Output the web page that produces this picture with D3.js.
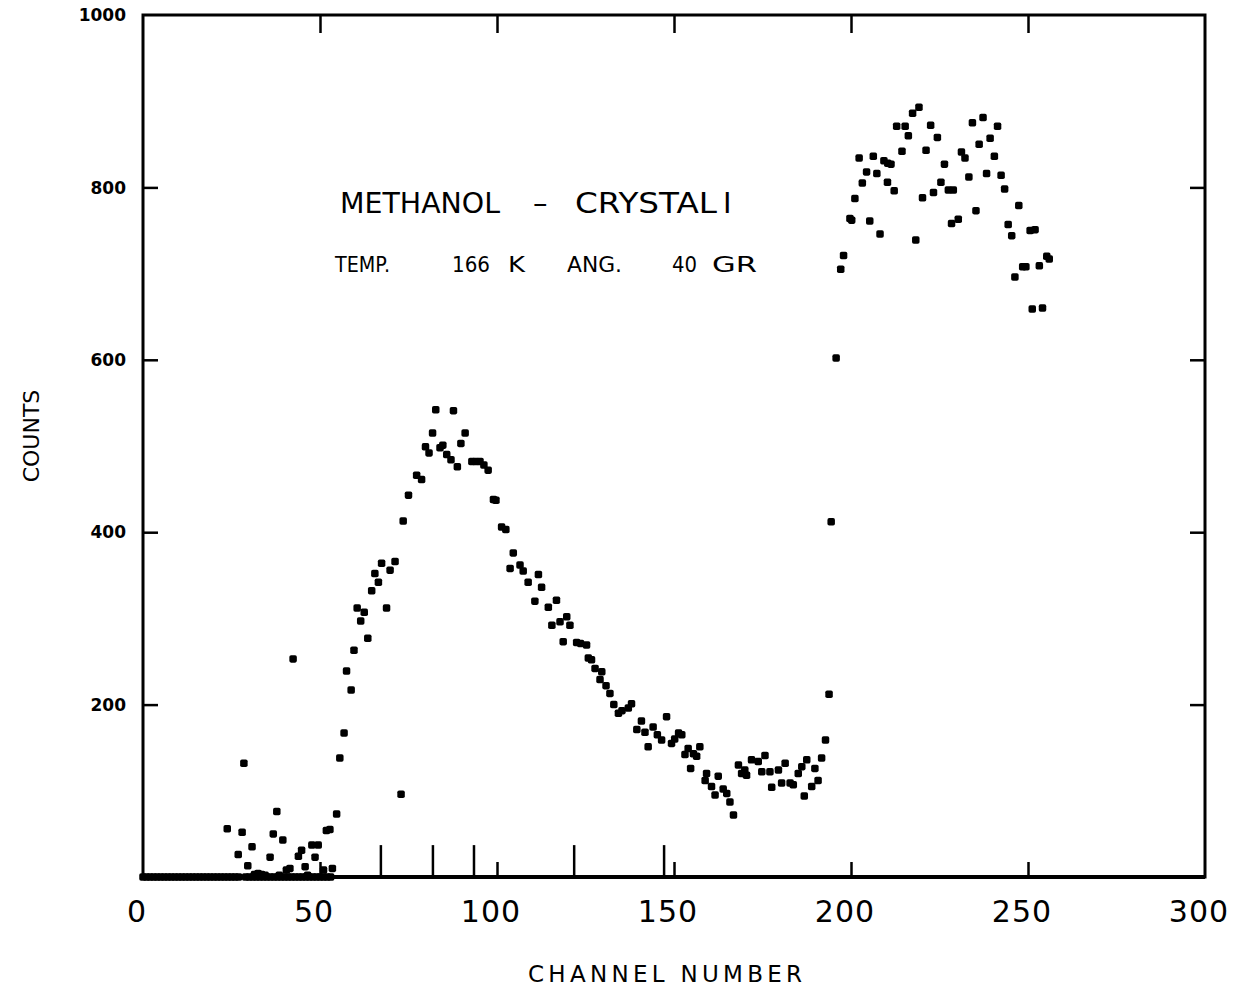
<!DOCTYPE html>
<html>
<head>
<meta charset="utf-8">
<script src="https://cdn.jsdelivr.net/npm/d3@7/dist/d3.min.js"></script>
<style>
  html, body { margin: 0; padding: 0; background: #fff; }
  svg { display: block; }
  text { fill: #000; }
</style>
</head>
<body>
<svg id="chart" width="1238" height="991"></svg>
<script>
// ---------- DATA ----------
const xTicks = [0, 50, 100, 150, 200, 250, 300];
const yTicks = [200, 400, 600, 800, 1000];
const yTickLabels = ["200", "400", "600", "800", "1000"];
const xTickLabels = ["0", "50", "100", "150", "200", "250", "300"];
const markerChannels = [67.2, 81.9, 93.5, 121.8, 147.2];

// channel number of each plotted point
const channels = [
  0,1,2,3,4,5,6,7,8,9,10,11,12,13,14,15,16,17,18,19,20,21,22,
  23,24,25,26,27,29,30,31,32,33,34,35,36,37,38,39,40,41,42,43,44,45,46,47,48,49,50,51,52,53,
  23.8,26.9,28,28.5,29.6,30.8,31.5,32.5,33.5,34.5,35.9,36.8,37.8,38.5,39.5,40.5,41.5,42.4,43.9,44.8,45.8,46.5,47.7,48.6,49.5,51,51.8,52.8,53.5,54.7,
  55.6,56.8,57.5,58.8,59.6,60.5,61.5,62.5,63.5,64.6,65.5,66.5,67.4,68.8,69.8,71.2,72.9,73.5,75,77.3,78.7,79.8,80.8,81.8,82.7,83.9,84.7,85.8,87,87.7,88.8,89.8,91,92.9,94,95.2,96.3,97.5,
  99,99.7,101.3,102.5,103.7,104.6,106.5,107.4,108.8,110.7,111.7,112.6,114.5,115.5,116.8,117.8,118.7,119.7,120.6,122.5,123.6,125.3,125.8,126.7,127.7,129.1,129.6,130.8,131.9,133,134.3,135.3,137.1,138,139.5,140.8,141.8,142.7,144.1,145.3,146.5,147.9,149.3,150.2,151.3,
  152.2,153.1,154,154.7,155.5,156.4,157.3,158.8,159.2,160.6,161.6,162.5,163.9,164.9,165.8,166.8,168.2,169.1,170,170.5,171.9,173.8,174.8,175.7,177.1,177.6,179.5,180.4,181.4,182.8,183.7,185.1,186.1,186.8,187.5,188.9,189.8,190.7,191.7,192.8,193.8,
  194.4,195.8,197.1,197.9,199.7,200.2,201.1,202.3,203.2,204.4,205.3,206.3,207.3,208.2,209.3,210.4,211.3,210.3,212.2,212.9,214.4,215.3,216.2,217.4,218.3,219.2,220.2,221.2,222.5,223.3,224.4,225.4,226.4,227.5,228.4,228.9,230.3,
  231.2,232.2,233.3,234.3,235.3,236.2,237.3,238.3,239.3,240.5,241.4,242.4,243.4,244.4,245.4,246.3,247.4,248.5,249.4,250.6,251.2,252,253.2,254.1,255.3,256
];
// counts of each plotted point
const counts = [
  0,0,0,0,0,0,0,0,0,0,0,0,0,0,0,0,0,0,0,0,0,0,0,
  0,0,0,0,0,0,0,0,0,0,0,0,0,0,0,0,0,0,0,0,0,0,0,0,0,0,0,0,0,0,
  56,26,52,132,13,35,3,4,3,2,23,50,76,2,43,8,10,253,24,31,12,2,37,23,37,8,54,55,10,73,
  138,167,239,217,263,312,297,307,277,332,352,342,364,312,356,366,96,413,443,466,461,499,492,515,542,498,501,490,484,541,476,503,515,482,482,482,478,472,
  438,437,406,403,358,376,362,355,342,320,351,336,313,292,321,296,273,302,292,272,271,269,254,252,242,229,238,222,213,200,190,193,196,201,171,181,168,151,174,165,159,186,155,160,167,
  165,142,149,126,143,140,151,112,120,105,95,117,102,97,87,72,130,120,124,118,136,134,122,141,122,104,124,109,132,109,107,120,128,94,136,105,126,112,138,159,212,
  412,602,705,721,764,762,787,834,805,818,761,836,816,746,831,828,827,806,796,871,842,871,860,886,739,893,788,843,872,794,858,806,827,797,758,797,763,
  841,834,812,875,773,850,881,816,857,836,871,814,798,757,744,696,779,708,708,750,659,751,709,660,720,717
];

// ---------- LAYOUT ----------
const plot = { left: 143, right: 1205, top: 15, bottom: 877 };
const svg = d3.select("#chart");

const x = d3.scaleLinear().domain([0, 300]).range([plot.left, plot.right]);
const y = d3.scaleLinear().domain([0, 1000]).range([plot.bottom, plot.top]);

const FONT = "'DejaVu Sans', 'Liberation Sans', sans-serif";

// ---------- FRAME ----------
svg.append("rect")
  .attr("x", plot.left).attr("y", plot.top)
  .attr("width", plot.right - plot.left).attr("height", plot.bottom - plot.top)
  .attr("fill", "none").attr("stroke", "#000").attr("stroke-width", 3);
svg.append("line")
  .attr("x1", plot.left).attr("x2", plot.right)
  .attr("y1", plot.bottom).attr("y2", plot.bottom)
  .attr("stroke", "#000").attr("stroke-width", 4);

// ---------- X AXIS ----------
const innerX = xTicks.filter(d => d > 0 && d < 300);
const bottomAxis = d3.axisBottom(x).tickValues(innerX).tickSize(-15).tickFormat("");
const gb = svg.append("g").attr("transform", `translate(0,${plot.bottom})`).call(bottomAxis);
gb.select(".domain").remove();
gb.selectAll(".tick line").attr("stroke", "#000").attr("stroke-width", 2.5);

const topAxis = d3.axisTop(x).tickValues(innerX).tickSize(-18).tickFormat("");
const gt = svg.append("g").attr("transform", `translate(0,${plot.top})`).call(topAxis);
gt.select(".domain").remove();
gt.selectAll(".tick line").attr("stroke", "#000").attr("stroke-width", 2.5);

svg.append("g").selectAll("text")
  .data(xTicks)
  .join("text")
  .attr("x", (d) => x(d) - 6)
  .attr("y", 922)
  .attr("text-anchor", "middle")
  .attr("font-family", FONT)
  .attr("font-size", 30)
  .attr("letter-spacing", 1)
  .text((d, i) => xTickLabels[i]);

// ---------- Y AXIS ----------
const innerY = yTicks.filter(d => d < 1000);
const leftAxis = d3.axisLeft(y).tickValues(innerY).tickSize(-15).tickFormat("");
const gl = svg.append("g").attr("transform", `translate(${plot.left},0)`).call(leftAxis);
gl.select(".domain").remove();
gl.selectAll(".tick line").attr("stroke", "#000").attr("stroke-width", 2.5);

const rightAxis = d3.axisRight(y).tickValues(innerY).tickSize(-15).tickFormat("");
const gr = svg.append("g").attr("transform", `translate(${plot.right},0)`).call(rightAxis);
gr.select(".domain").remove();
gr.selectAll(".tick line").attr("stroke", "#000").attr("stroke-width", 2.5);

svg.append("g").selectAll("text")
  .data(yTicks)
  .join("text")
  .attr("x", 126)
  .attr("y", d => y(d))
  .attr("dy", "0.36em")
  .attr("text-anchor", "end")
  .attr("font-family", FONT)
  .attr("font-weight", "bold")
  .attr("font-size", 17)
  .text((d, i) => yTickLabels[i]);

// ---------- MARKER LINES ON BASELINE ----------
svg.append("g").selectAll("line")
  .data(markerChannels)
  .join("line")
  .attr("x1", d => x(d)).attr("x2", d => x(d))
  .attr("y1", y(0)).attr("y2", y(37))
  .attr("stroke", "#000").attr("stroke-width", 2.5);

// ---------- DATA POINTS ----------
const pts = channels.map((c, i) => ({ c, v: counts[i] }));
const S = 7.5;
svg.append("g").selectAll("rect")
  .data(pts)
  .join("rect")
  .attr("x", d => x(d.c) - S / 2)
  .attr("y", d => y(d.v) - S / 2)
  .attr("width", S).attr("height", S)
  .attr("rx", 1.8)
  .attr("fill", "#000");

// ---------- TEXT ----------
const ann = svg.append("g").attr("font-family", FONT);
ann.append("text").attr("x", 340).attr("y", 213).attr("font-size", 29)
  .attr("textLength", 160).attr("lengthAdjust", "spacingAndGlyphs").text("METHANOL");
ann.append("text").attr("x", 533).attr("y", 213).attr("font-size", 29).text("–");
ann.append("text").attr("x", 575).attr("y", 213).attr("font-size", 29)
  .attr("textLength", 142).attr("lengthAdjust", "spacingAndGlyphs").text("CRYSTAL");
ann.append("text").attr("x", 723).attr("y", 213).attr("font-size", 29).text("I");

const line2 = [["TEMP.", 335, 55], ["166", 452, 38], ["K", 508, 17], ["ANG.", 567, 55], ["40", 672, 25], ["GR", 712, 45]];
line2.forEach(([t, px, w]) => {
  ann.append("text").attr("x", px).attr("y", 272).attr("font-size", 21)
    .attr("textLength", w).attr("lengthAdjust", "spacingAndGlyphs").text(t);
});

// axis titles
svg.append("text")
  .attr("x", 528).attr("y", 982)
  .attr("font-family", FONT).attr("font-size", 23)
  .attr("textLength", 274).attr("lengthAdjust", "spacing")
  .text("CHANNEL  NUMBER");

svg.append("text")
  .attr("transform", "translate(39,436) rotate(-90)")
  .attr("text-anchor", "middle")
  .attr("font-family", FONT).attr("font-size", 22)
  .text("COUNTS");
</script>
</body>
</html>
